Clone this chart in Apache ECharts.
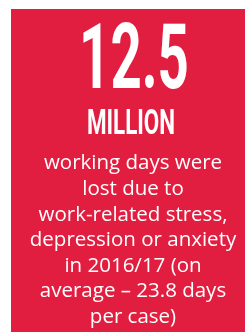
<!DOCTYPE html>
<html>
<head>
<meta charset="utf-8">
<script src="https://cdn.jsdelivr.net/npm/echarts@6/dist/echarts.min.js"></script>
<style>
html, body { margin: 0; padding: 0; background: #fff; }
#main { width: 245px; height: 333px; }
</style>
</head>
<body>
<div id="main"></div>
<script>
// figures shown on the card
var bigValue = '12.5';
var unitText = 'MILLION';
var bodyLines = [
    'working days were',
    'lost due to',
    'work-related stress,',
    'depression or anxiety',
    'in 2016/17 (on',
    'average \u2013 23.8 days',
    'per case)'
];

var myChart = echarts.init(document.getElementById('main'));
var cx = 133;   // text centre line
var red = '#e21e40';

var elements = [];
// red card
elements.push({
    type: 'rect',
    shape: {x: 11, y: 9, width: 234, height: 323},
    style: {fill: red}
});
// big number
elements.push({
    type: 'text',
    x: cx + 1, y: 65,
    scaleX: 0.6,
    style: {
        text: bigValue,
        fill: '#fff',
        font: 'bold 91px Roboto',
        textAlign: 'center',
        textVerticalAlign: 'middle'
    }
});
// unit
elements.push({
    type: 'text',
    x: cx - 2, y: 125,
    scaleX: 0.64,
    style: {
        text: unitText,
        fill: '#fff',
        font: 'bold 35px Roboto',
        textAlign: 'center',
        textVerticalAlign: 'middle'
    }
});
// description
for (var i = 0; i < bodyLines.length; i++) {
    elements.push({
        type: 'text',
        x: cx, y: 163.5 + i * 25.6,
        style: {
            text: bodyLines[i],
            fill: '#fff',
            font: '20.5px "Open Sans"',
            textAlign: 'center',
            textVerticalAlign: 'middle'
        }
    });
}

myChart.setOption({
    animation: false,
    graphic: {elements: elements}
});
</script>
</body>
</html>
